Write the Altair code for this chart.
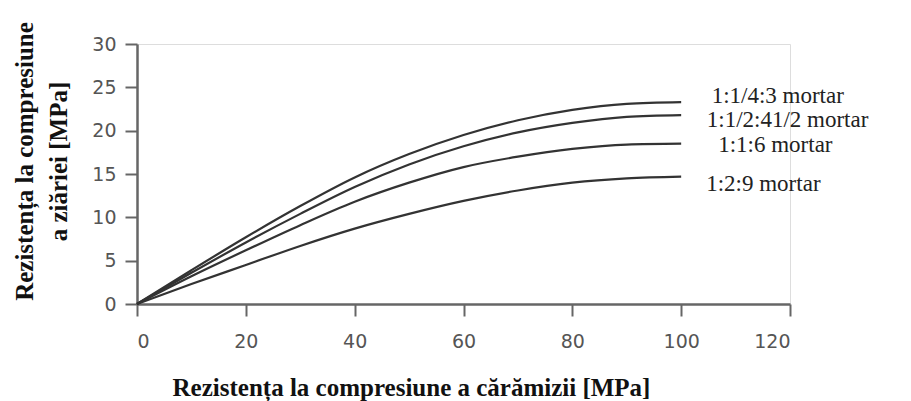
import altair as alt
import pandas as pd

x_vals = [0, 10, 20, 30, 40, 50, 60, 70, 80, 90, 100]
s_143 = [0, 3.9, 7.7, 11.3, 14.6, 17.3, 19.5, 21.2, 22.4, 23.1, 23.3]
s_1245 = [0, 3.6, 7.1, 10.4, 13.5, 16.1, 18.2, 19.8, 20.9, 21.6, 21.8]
s_116 = [0, 3.2, 6.2, 9.1, 11.8, 14.0, 15.8, 17.0, 17.9, 18.4, 18.5]
s_129 = [0, 2.3, 4.5, 6.7, 8.7, 10.4, 11.9, 13.1, 14.0, 14.5, 14.7]

series_names = ["1:1/4:3 mortar", "1:1/2:41/2 mortar", "1:1:6 mortar", "1:2:9 mortar"]
series_vals = [s_143, s_1245, s_116, s_129]

label_x = [105.6, 104.7, 106.8, 104.6]
label_y = [24.0, 21.2, 18.4, 13.9]

rows = []
for name, vals in zip(series_names, series_vals):
    for xv, yv in zip(x_vals, vals):
        rows.append({"x": xv, "y": yv, "s": name})
df = pd.DataFrame(rows)
lab = pd.DataFrame({"s": series_names, "x": label_x, "y": label_y})

SERIF = "Liberation Serif"
SANS = "DejaVu Sans"
xs = alt.Scale(domain=[0, 120], nice=False, zero=True)
ys = alt.Scale(domain=[0, 30], nice=False)

common = dict(grid=False, domainColor="#666", domainWidth=2.5, tickColor="#666",
              tickWidth=2, tickSize=12, labelFont=SANS, labelFontSize=19,
              labelColor="#555", titleFont=SERIF, titleFontWeight="bold",
              titleColor="#111", titleFontSize=25)

lines = alt.Chart(df).mark_line(color="#333", strokeWidth=2.2, interpolate="monotone").encode(
    x=alt.X("x:Q", scale=xs, axis=alt.Axis(
        values=[0, 20, 40, 60, 80, 100, 120],
        title="Rezistența la compresiune a cărămizii [MPa]",
        titleX=274, titleY=71, titleBaseline="top", labelPadding=16, **common)),
    y=alt.Y("y:Q", scale=ys, axis=alt.Axis(
        values=[0, 5, 10, 15, 20, 25, 30],
        title=["Rezistența la compresiune", "a ziăriei [MPa]"],
        titleX=-125, titleY=117, titleAngle=-90, titleAlign="center", titleBaseline="top",
        titleLineHeight=34, labelPadding=9, **common)),
    detail="s:N",
)

labels = alt.Chart(lab).mark_text(align="left", baseline="middle", font=SERIF, fontSize=23,
                                  color="#222").encode(
    x=alt.X("x:Q", scale=xs), y=alt.Y("y:Q", scale=ys), text="s:N")

chart = (lines + labels).properties(
    width=653, height=260,
    autosize=alt.AutoSizeParams(type="none"),
    padding={"left": 137, "top": 44, "right": 121, "bottom": 97},
).configure_view(stroke=None).configure(background="white")

chart.save("out.html", embed_options={"renderer": "svg", "actions": False})
